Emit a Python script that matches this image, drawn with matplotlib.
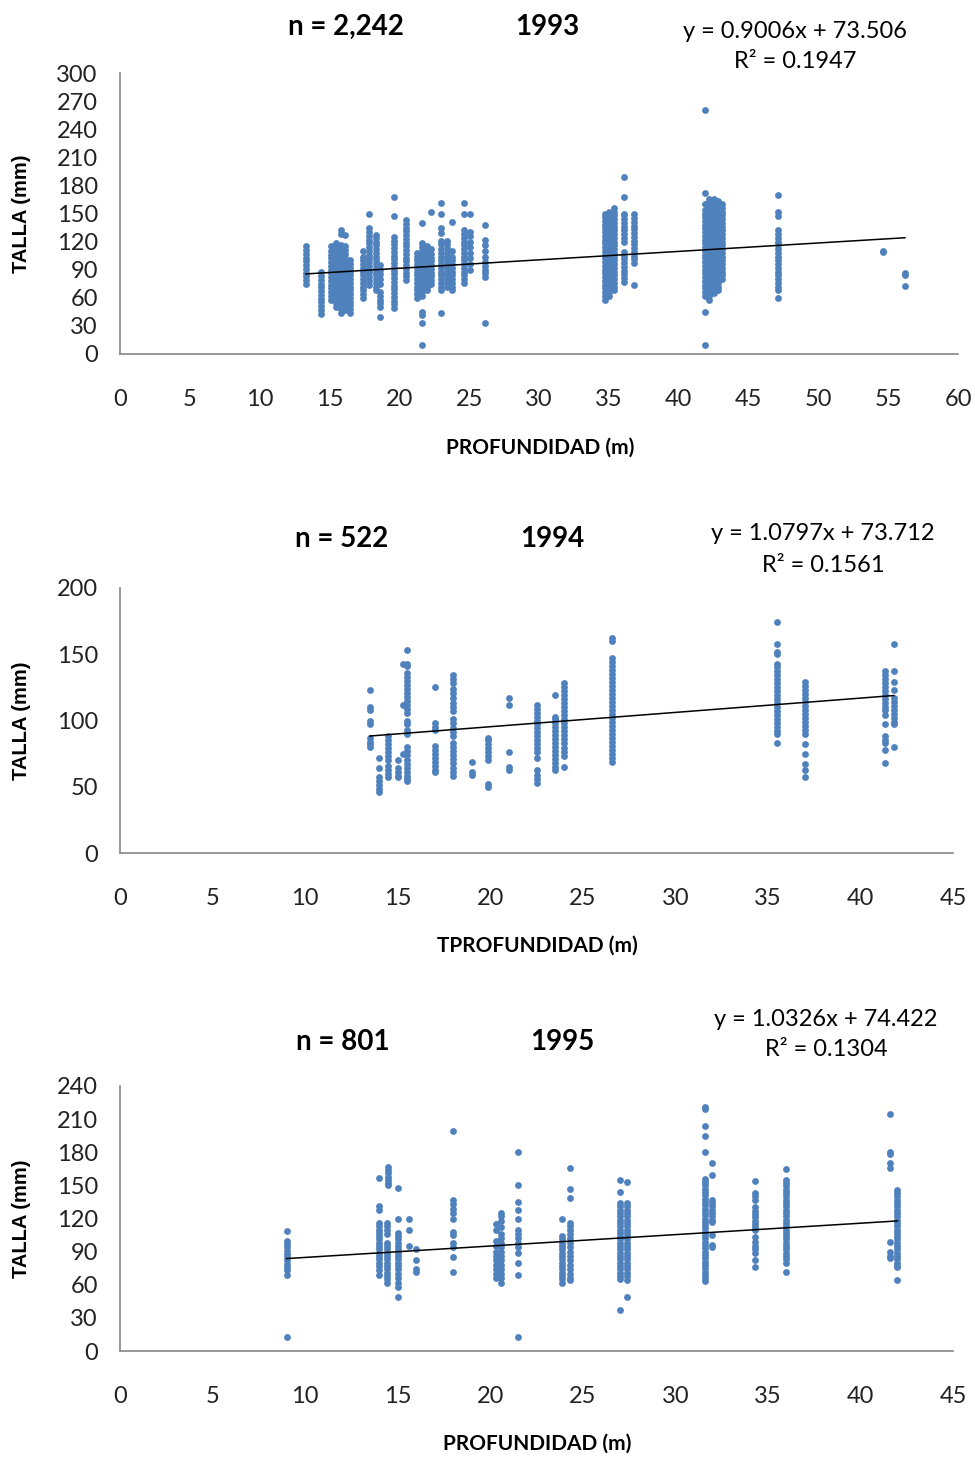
import matplotlib
matplotlib.use("Agg")
import matplotlib.pyplot as plt

# ---- 1993 ----
prof_93 = [13.3, 14.4, 15.1, 15.5, 15.8, 16.1, 16.5, 17.4, 17.85, 18.3, 18.6, 19.6,
           20.5, 21.3, 21.6, 22.0, 22.3, 23.0, 23.4, 23.8, 24.6, 25.06, 26.1,
           34.7, 35.0, 35.4, 36.1, 36.8, 41.9, 42.2, 42.5, 42.8, 43.1, 47.1, 54.6, 56.2]
talla_93 = [
    [75, 79, 83, 87, 91, 95, 99, 103, 107, 111, 115],
    [43, 47, 51, 55, 59, 63, 67, 71, 75, 79, 83, 88],
    [58, 62, 66, 70, 74, 78, 82, 86, 90, 94, 98, 102, 106, 110, 115],
    [50, 54, 58, 62, 66, 70, 74, 78, 82, 86, 90, 94, 98, 102, 106, 110, 114, 118],
    [44, 48, 52, 56, 60, 64, 68, 72, 76, 80, 84, 88, 92, 96, 100, 104, 108, 112, 116, 128, 132],
    [47, 51, 55, 59, 63, 67, 71, 75, 79, 83, 87, 91, 95, 99, 103, 107, 111, 115, 127],
    [44, 48, 52, 56, 60, 64, 68, 72, 76, 80, 84, 88, 92, 96, 100],
    [60, 64, 68, 72, 76, 80, 84, 88, 92, 96, 100, 104, 110],
    [74, 78, 82, 86, 90, 94, 98, 102, 106, 110, 114, 118, 122, 126, 130, 134, 150],
    [68, 72, 76, 80, 84, 88, 92, 96, 100, 104, 108, 112, 116, 120, 124, 127],
    [39, 50, 54, 58, 62, 66, 75, 80, 85, 90, 95],
    [49, 53, 57, 61, 65, 69, 73, 77, 81, 85, 89, 93, 97, 101, 105, 109, 113, 117, 121, 125, 147, 168],
    [79, 83, 87, 91, 95, 99, 103, 107, 111, 115, 119, 123, 127, 131, 135, 139, 143],
    [60, 64, 68, 72, 76, 80, 84, 88, 92, 96, 100, 104, 108],
    [10, 33, 42, 45, 62, 66, 70, 74, 78, 82, 86, 90, 94, 98, 102, 106, 110, 114, 118, 140],
    [68, 72, 76, 80, 84, 88, 92, 96, 100, 104, 108, 112, 115],
    [75, 79, 83, 87, 91, 95, 99, 103, 107, 112, 152],
    [44, 68, 72, 76, 80, 84, 88, 92, 96, 100, 104, 108, 112, 117, 121, 129, 134, 150, 161],
    [72, 76, 80, 84, 88, 92, 96, 100, 104, 108, 113, 117, 121],
    [68, 72, 76, 80, 84, 88, 92, 96, 100, 104, 110, 141],
    [76, 80, 84, 88, 92, 96, 100, 104, 108, 112, 116, 120, 124, 128, 132, 150, 161],
    [90, 96, 102, 108, 114, 120, 126, 130, 150],
    [33, 82, 86, 90, 94, 98, 104, 110, 116, 122, 138],
    [58, 62, 66, 70, 74, 78, 82, 86, 90, 94, 98, 102, 106, 110, 114, 118, 122, 126, 130, 134, 138, 142, 146, 150],
    [62, 66, 70, 74, 78, 82, 86, 90, 94, 98, 102, 106, 110, 114, 118, 122, 126, 130, 134, 138, 142, 146, 150, 152],
    [68, 72, 76, 80, 84, 88, 92, 96, 100, 104, 108, 112, 116, 120, 124, 128, 132, 136, 140, 144, 148, 152, 156],
    [77, 81, 85, 89, 93, 97, 101, 105, 109, 120, 124, 128, 132, 136, 140, 144, 148, 150, 168, 189],
    [74, 97, 101, 105, 109, 113, 117, 121, 125, 129, 133, 137, 141, 145, 150],
    [10, 45, 62, 66, 70, 74, 78, 82, 86, 90, 94, 98, 102, 106, 110, 114, 118, 122, 126, 130, 134, 138, 142, 146, 150, 154, 160, 172, 260],
    [58, 62, 66, 70, 74, 78, 82, 86, 90, 94, 98, 102, 106, 110, 114, 118, 122, 126, 130, 134, 138, 142, 146, 150, 154, 158, 162, 166],
    [65, 69, 73, 77, 81, 85, 89, 93, 97, 101, 105, 109, 113, 117, 121, 125, 129, 133, 137, 141, 145, 149, 153, 157, 161, 165],
    [68, 72, 76, 80, 84, 88, 92, 96, 100, 104, 108, 112, 116, 120, 124, 128, 132, 136, 140, 144, 148, 152, 156, 160, 163],
    [80, 84, 88, 92, 96, 100, 104, 108, 112, 116, 120, 124, 128, 132, 136, 140, 144, 148, 152, 156, 160],
    [60, 68, 72, 76, 80, 84, 88, 92, 96, 100, 104, 108, 112, 116, 120, 124, 128, 132, 147, 152, 170],
    [109, 110],
    [73, 84, 86],
]

# ---- 1994 ----
prof_94 = [13.5, 14.0, 14.5, 15.0, 15.5, 15.3, 17.0, 18.0, 19.0, 19.9, 21.0, 22.5,
           23.5, 24.0, 26.6, 35.5, 37.0, 41.3, 41.8]
talla_94 = [
    [123, 110, 108, 100, 97, 87, 84, 82, 80],
    [72, 64, 57, 54, 51, 48, 46],
    [88, 85, 82, 79, 76, 73, 70, 66, 63, 60, 57],
    [70, 64, 61, 58, 57],
    [153, 143, 141, 136, 133, 130, 127, 124, 121, 118, 115, 112, 109, 106, 100, 97, 93, 90,
     80, 77, 74, 70, 67, 64, 61, 58, 56, 54],
    [143, 112, 75],
    [125, 98, 95, 93, 81, 78, 75, 72, 69, 66, 63, 61],
    [134, 131, 128, 124, 121, 117, 113, 110, 107, 101, 98, 94, 91, 88, 83, 80, 77, 74, 71, 68, 64, 61, 58],
    [69, 61, 59],
    [87, 85, 82, 79, 76, 73, 70, 52, 50],
    [117, 112, 76, 65, 63],
    [112, 109, 106, 103, 100, 97, 94, 91, 88, 85, 82, 79, 76, 72, 63, 59, 56, 53],
    [119, 103, 101, 98, 95, 92, 89, 86, 83, 80, 77, 74, 71, 68, 65, 63],
    [128, 125, 122, 119, 116, 113, 110, 107, 104, 101, 98, 95, 92, 89, 86, 83, 79, 76, 73, 65],
    [162, 160, 147, 144, 141, 138, 135, 132, 129, 126, 123, 120, 117, 114, 111, 108, 105, 102,
     99, 96, 93, 90, 87, 84, 81, 78, 75, 72, 69],
    [174, 158, 152, 150, 143, 140, 137, 134, 131, 128, 125, 122, 119, 116, 113, 110, 107, 104,
     101, 98, 95, 92, 90, 83],
    [129, 126, 123, 120, 117, 114, 111, 108, 105, 102, 99, 96, 93, 90, 82, 75, 67, 63, 57],
    [137, 134, 131, 128, 125, 122, 119, 116, 113, 110, 108, 104, 97, 88, 85, 83, 78, 68],
    [158, 137, 129, 123, 117, 114, 111, 108, 105, 102, 99, 97, 80],
]

# ---- 1995 ----
prof_95 = [9.0, 14.0, 14.4, 14.5, 15.0, 15.6, 16.0, 18.0, 20.3, 20.6, 21.5, 23.9, 24.3,
           27.0, 27.4, 31.6, 32.0, 34.3, 36.0, 41.6, 42.0]
talla_95 = [
    [109, 100, 97, 94, 91, 88, 85, 82, 79, 76, 73, 69, 13],
    [157, 131, 128, 116, 113, 110, 107, 104, 101, 98, 95, 92, 89, 86, 83, 80, 77, 73, 69],
    [116, 113, 110, 106, 98, 95, 92, 89, 86, 83, 80, 77, 74, 71, 68, 65, 62],
    [167, 164, 161, 158, 155, 152, 150],
    [148, 120, 107, 104, 101, 98, 95, 92, 89, 86, 83, 80, 77, 74, 70, 66, 62, 58, 49],
    [120, 110, 95],
    [92, 82, 74, 72],
    [199, 137, 133, 129, 125, 120, 108, 105, 98, 94, 85, 72],
    [115, 110, 100, 95, 90, 86, 82, 78, 74, 70, 66],
    [125, 122, 118, 112, 106, 102, 98, 94, 90, 86, 82, 78, 74, 70, 66, 62],
    [180, 150, 135, 128, 120, 110, 106, 102, 98, 94, 89, 80, 69, 13],
    [120, 104, 101, 98, 95, 92, 89, 86, 83, 80, 77, 74, 71, 68, 65, 62],
    [166, 147, 139, 116, 113, 110, 106, 102, 98, 94, 90, 86, 82, 78, 74, 70, 66, 64],
    [155, 144, 134, 131, 128, 125, 122, 119, 116, 113, 110, 107, 104, 101, 98, 95, 92, 89,
     86, 83, 80, 77, 74, 71, 68, 65, 37],
    [153, 134, 131, 128, 125, 122, 119, 116, 113, 110, 107, 104, 101, 98, 95, 92, 89, 86,
     83, 80, 77, 74, 71, 68, 64, 49],
    [221, 219, 204, 195, 180, 156, 153, 150, 147, 144, 141, 138, 135, 132, 129, 126, 123, 120,
     117, 114, 111, 108, 105, 102, 99, 96, 93, 90, 87, 84, 81, 78, 75, 72, 69, 66, 63],
    [170, 159, 137, 134, 131, 128, 125, 122, 119, 117, 105, 96, 94],
    [154, 143, 140, 137, 130, 127, 124, 121, 118, 115, 112, 110, 103, 99, 95, 92, 89, 82, 76],
    [165, 155, 152, 149, 146, 143, 140, 137, 134, 131, 128, 125, 122, 119, 116, 113, 110, 107,
     104, 101, 98, 95, 92, 89, 86, 83, 80, 72],
    [215, 180, 178, 170, 166, 99, 90, 86, 84],
    [146, 143, 140, 137, 134, 131, 128, 125, 122, 119, 116, 113, 110, 107, 104, 101, 98, 95,
     92, 89, 86, 83, 80, 77, 76, 64],
]

years = ["1993", "1994", "1995"]
n_labels = ["n = 2,242", "n = 522", "n = 801"]
slopes = [0.9006, 1.0797, 1.0326]
intercepts = [73.506, 73.712, 74.422]
r2 = ["0.1947", "0.1561", "0.1304"]
xlabels = ["PROFUNDIDAD (m)", "TPROFUNDIDAD (m)", "PROFUNDIDAD (m)"]

W, H = 975, 1458
fig = plt.figure(figsize=(W / 100, H / 100), dpi=100)


def fx(px):
    return px / W


def fy(py):
    return 1 - py / H


# pixel layout of each chart
panels = [
    dict(l=120, r=958, t=73, b=354, xmax=60, ymax=300, ystep=30,
         title_y=27, n_x=346, yr_x=547, eq_x=795, eq_y=31, r2_y=62, xl_x=540, xl_y=448),
    dict(l=120, r=953, t=588, b=853, xmax=45, ymax=200, ystep=50,
         title_y=539, n_x=342, yr_x=552, eq_x=823, eq_y=533, r2_y=565, xl_x=537, xl_y=946),
    dict(l=120, r=953, t=1086, b=1351, xmax=45, ymax=240, ystep=30,
         title_y=1042, n_x=343, yr_x=562, eq_x=826, eq_y=1019, r2_y=1050, xl_x=537, xl_y=1444),
]
data = [(prof_93, talla_93), (prof_94, talla_94), (prof_95, talla_95)]

calib = "Lato"
for i, p in enumerate(panels):
    ax = fig.add_axes([fx(p["l"]), fy(p["b"]), fx(p["r"] - p["l"]), (p["b"] - p["t"]) / H])
    prof, talla = data[i]
    xs, ys = [], []
    for d, vals in zip(prof, talla):
        xs += [d] * len(vals)
        ys += vals
    ax.scatter(xs, ys, s=24, color="#4F81BD", linewidths=0, zorder=2)
    x0, x1 = min(xs), max(xs)
    ax.plot([x0, x1], [slopes[i] * x0 + intercepts[i], slopes[i] * x1 + intercepts[i]],
            color="black", lw=1.1, zorder=3)
    ax.set_xlim(0, p["xmax"])
    ax.set_ylim(0, p["ymax"])
    ax.set_xticks(range(0, p["xmax"] + 1, 5))
    ax.set_yticks(range(0, p["ymax"] + 1, p["ystep"]))
    ax.tick_params(length=0, labelsize=17, colors="#222222")
    ax.tick_params(axis="x", pad=25)
    ax.tick_params(axis="y", pad=16)
    for lab in ax.get_xticklabels() + ax.get_yticklabels():
        lab.set_fontfamily(calib)
    for s in ["top", "right"]:
        ax.spines[s].set_visible(False)
    for s in ["left", "bottom"]:
        ax.spines[s].set_color("#868686")
        ax.spines[s].set_linewidth(1.2)
    ax.set_facecolor("none")

    fig.text(fx(p["n_x"]), fy(p["title_y"]), n_labels[i], ha="center", va="center",
             fontsize=20, fontweight="bold", family=calib)
    fig.text(fx(p["yr_x"]), fy(p["title_y"]), years[i], ha="center", va="center",
             fontsize=20, fontweight="bold", family=calib)
    fig.text(fx(p["eq_x"]), fy(p["eq_y"]), f"y = {slopes[i]:.4f}x + {intercepts[i]:.3f}",
             ha="center", va="center", fontsize=17, family=calib)
    fig.text(fx(p["eq_x"]), fy(p["r2_y"]), f"R² = {r2[i]}",
             ha="center", va="center", fontsize=17, family=calib)
    fig.text(fx(p["xl_x"]), fy(p["xl_y"]), xlabels[i], ha="center", va="center",
             fontsize=15, fontweight="bold", family=calib)
    fig.text(fx(22), fy((p["t"] + p["b"]) / 2), "TALLA (mm)", ha="center", va="center",
             rotation=90, fontsize=14.5, fontweight="bold", family="Liberation Sans")

fig.savefig("out.png", dpi=100, facecolor="white")
